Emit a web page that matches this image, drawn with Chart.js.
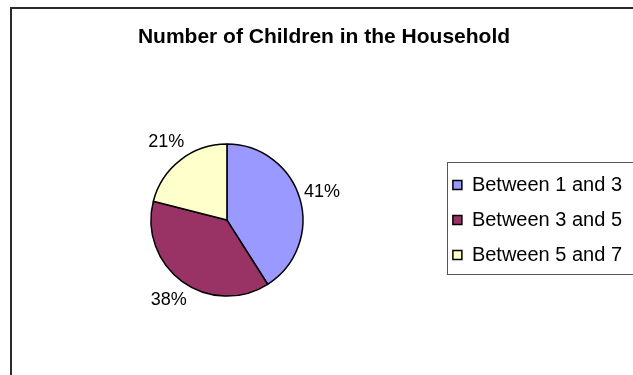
<!DOCTYPE html>
<html lang="en">
<head>
  <meta charset="UTF-8">
  <title>Number of Children in the Household</title>
  <script src="https://cdn.jsdelivr.net/npm/chart.js"></script>
  <style>
    body { margin: 0; background: #fff; overflow: hidden; }
    #wrap { position: relative; width: 660px; height: 375px; }
  </style>
</head>
<body>
  <div id="wrap"><canvas id="chart"></canvas></div>

  <script>
    const categories = ['Between 1 and 3', 'Between 3 and 5', 'Between 5 and 7'];
    const shares = [41, 38, 21];
    const sliceColors = ['#9999FF', '#993366', '#FFFFCC'];

    const FONT = '"Liberation Sans", Arial, sans-serif';

    // frame around the whole chart + box around the legend
    const framePlugin = {
      id: 'frame',
      beforeDraw(chart) {
        const ctx = chart.ctx;
        ctx.save();
        ctx.strokeStyle = '#2b2b2b';
        ctx.lineWidth = 2;
        ctx.strokeRect(11, 8, chart.width + 20, chart.height + 20);
        ctx.restore();
      },
      afterDraw(chart) {
        const lg = chart.legend;
        if (!lg || !lg.legendHitBoxes.length) return;
        const boxes = lg.legendHitBoxes;
        const first = boxes[0], last = boxes[boxes.length - 1];
        const ctx = chart.ctx;
        ctx.save();
        ctx.strokeStyle = '#555';
        ctx.lineWidth = 1;
        const left = Math.round(first.left - 6) + 0.5;
        const top = Math.round(first.top - 13) + 0.5;
        const bottom = Math.round(last.top + last.height + 9) + 0.5;
        ctx.strokeRect(left, top, chart.width, bottom - top);
        ctx.restore();
      }
    };

    // percentage labels just outside each slice
    const sliceLabels = {
      id: 'sliceLabels',
      afterDatasetsDraw(chart) {
        const ctx = chart.ctx;
        const meta = chart.getDatasetMeta(0);
        ctx.save();
        ctx.font = '18px ' + FONT;
        ctx.fillStyle = '#000';
        ctx.textAlign = 'center';
        ctx.textBaseline = 'middle';
        meta.data.forEach((arc, i) => {
          const p = arc.getProps(['x', 'y', 'startAngle', 'endAngle', 'outerRadius'], true);
          const mid = (p.startAngle + p.endAngle) / 2;
          const r = p.outerRadius + 23;
          ctx.fillText(shares[i] + '%', p.x + Math.cos(mid) * r, p.y + Math.sin(mid) * r);
        });
        ctx.restore();
      }
    };

    new Chart(document.getElementById('chart'), {
      type: 'pie',
      data: {
        labels: categories,
        datasets: [{
          data: shares,
          backgroundColor: sliceColors,
          borderColor: '#000',
          borderWidth: 1.5
        }]
      },
      options: {
        responsive: true,
        maintainAspectRatio: false,
        animation: false,
        radius: 76,
        layout: { padding: { left: 16, right: 28, top: 0, bottom: 40 } },
        plugins: {
          title: {
            display: true,
            text: 'Number of Children in the Household',
            color: '#000',
            font: { family: FONT, size: 21, weight: 'bold' },
            padding: { top: 25, bottom: 55 }
          },
          legend: {
            position: 'right',
            fullSize: false,
            labels: {
              color: '#000',
              font: { family: FONT, size: 20 },
              boxWidth: 9,
              boxHeight: 9,
              padding: 15
            }
          },
          tooltip: { enabled: false }
        }
      },
      plugins: [framePlugin, sliceLabels]
    });
  </script>
</body>
</html>
